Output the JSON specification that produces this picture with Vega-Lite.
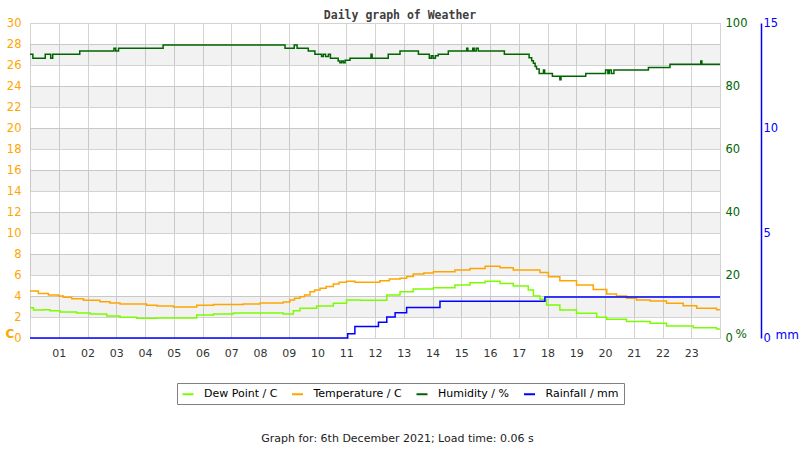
{
  "$schema": "https://vega.github.io/schema/vega-lite/v6.json",
  "autosize": "none",
  "width": 690,
  "height": 315,
  "padding": {"left": 30, "top": 23, "right": 80, "bottom": 112},
  "background": "white",
  "config": {
    "font": "DejaVu Sans",
    "view": {"stroke": "#d3d3d3"},
    "axisX": {
      "labelExpr": "datum.value <= 0 || datum.value >= 24 ? '' : (datum.value < 10 ? '0' + datum.value : '' + datum.value)",
      "tickCount": 24,
      "grid": true, "gridColor": "#d3d3d3", "ticks": false, "domain": false,
      "labelPadding": 9, "labelFontSize": 11, "labelColor": "#333333", "labelFont": "DejaVu Sans",
      "titleFont": "DejaVu Sans", "titleFontWeight": "normal", "titleFontSize": 11, "titleColor": "#222222",
      "titleX": 367, "titleY": 100, "titleAlign": "center", "titleBaseline": "middle"
    }
  },
  "title": {"text": "Daily graph of Weather", "font": "DejaVu Sans Mono", "fontWeight": "bold", "fontSize": 11.5, "color": "#404040", "anchor": "middle", "dx": 25, "dy": 18, "offset": 5, "baseline": "alphabetic"},
  "datasets": {
    "bands": [
      {"lo": 2, "hi": 4}, {"lo": 6, "hi": 8}, {"lo": 10, "hi": 12}, {"lo": 14, "hi": 16},
      {"lo": 18, "hi": 20}, {"lo": 22, "hi": 24}, {"lo": 26, "hi": 28}
    ],
    "series": [
      {"s": "Temperature / C", "h": 0, "v": 4.48}, {"s": "Temperature / C", "h": 0.29, "v": 4.25},
      {"s": "Temperature / C", "h": 0.64, "v": 4.1}, {"s": "Temperature / C", "h": 0.99, "v": 4.0},
      {"s": "Temperature / C", "h": 1.16, "v": 3.87}, {"s": "Temperature / C", "h": 1.45, "v": 3.75},
      {"s": "Temperature / C", "h": 1.86, "v": 3.6}, {"s": "Temperature / C", "h": 2.43, "v": 3.46},
      {"s": "Temperature / C", "h": 2.78, "v": 3.33}, {"s": "Temperature / C", "h": 3.13, "v": 3.24},
      {"s": "Temperature / C", "h": 4.06, "v": 3.11}, {"s": "Temperature / C", "h": 4.41, "v": 3.05},
      {"s": "Temperature / C", "h": 4.99, "v": 2.95}, {"s": "Temperature / C", "h": 5.8, "v": 3.11},
      {"s": "Temperature / C", "h": 6.38, "v": 3.2}, {"s": "Temperature / C", "h": 7.42, "v": 3.24},
      {"s": "Temperature / C", "h": 8.0, "v": 3.33}, {"s": "Temperature / C", "h": 8.81, "v": 3.43},
      {"s": "Temperature / C", "h": 9.04, "v": 3.62}, {"s": "Temperature / C", "h": 9.2, "v": 3.78},
      {"s": "Temperature / C", "h": 9.39, "v": 3.94}, {"s": "Temperature / C", "h": 9.55, "v": 4.1},
      {"s": "Temperature / C", "h": 9.74, "v": 4.41}, {"s": "Temperature / C", "h": 9.9, "v": 4.57},
      {"s": "Temperature / C", "h": 10.09, "v": 4.73}, {"s": "Temperature / C", "h": 10.3, "v": 4.9},
      {"s": "Temperature / C", "h": 10.55, "v": 5.14}, {"s": "Temperature / C", "h": 10.75, "v": 5.3},
      {"s": "Temperature / C", "h": 11.01, "v": 5.4}, {"s": "Temperature / C", "h": 11.3, "v": 5.3},
      {"s": "Temperature / C", "h": 12.17, "v": 5.46}, {"s": "Temperature / C", "h": 12.5, "v": 5.62},
      {"s": "Temperature / C", "h": 12.87, "v": 5.68}, {"s": "Temperature / C", "h": 13.1, "v": 5.85},
      {"s": "Temperature / C", "h": 13.33, "v": 6.1}, {"s": "Temperature / C", "h": 13.7, "v": 6.2},
      {"s": "Temperature / C", "h": 14.03, "v": 6.32}, {"s": "Temperature / C", "h": 14.78, "v": 6.48},
      {"s": "Temperature / C", "h": 15.3, "v": 6.63}, {"s": "Temperature / C", "h": 15.83, "v": 6.83},
      {"s": "Temperature / C", "h": 16.35, "v": 6.7}, {"s": "Temperature / C", "h": 16.81, "v": 6.48},
      {"s": "Temperature / C", "h": 17.74, "v": 6.25}, {"s": "Temperature / C", "h": 18.03, "v": 5.84},
      {"s": "Temperature / C", "h": 18.43, "v": 5.46}, {"s": "Temperature / C", "h": 19.01, "v": 5.05},
      {"s": "Temperature / C", "h": 19.59, "v": 4.63}, {"s": "Temperature / C", "h": 20.06, "v": 4.19},
      {"s": "Temperature / C", "h": 20.4, "v": 4.0}, {"s": "Temperature / C", "h": 20.75, "v": 3.78},
      {"s": "Temperature / C", "h": 21.1, "v": 3.62}, {"s": "Temperature / C", "h": 21.57, "v": 3.52},
      {"s": "Temperature / C", "h": 22.14, "v": 3.3}, {"s": "Temperature / C", "h": 22.72, "v": 3.08},
      {"s": "Temperature / C", "h": 23.19, "v": 2.83}, {"s": "Temperature / C", "h": 23.88, "v": 2.7},
      {"s": "Temperature / C", "h": 24, "v": 2.7},

      {"s": "Dew Point / C", "h": 0, "v": 2.89}, {"s": "Dew Point / C", "h": 0.12, "v": 2.67},
      {"s": "Dew Point / C", "h": 0.46, "v": 2.7}, {"s": "Dew Point / C", "h": 0.7, "v": 2.6},
      {"s": "Dew Point / C", "h": 1.04, "v": 2.48}, {"s": "Dew Point / C", "h": 1.62, "v": 2.38},
      {"s": "Dew Point / C", "h": 2.09, "v": 2.29}, {"s": "Dew Point / C", "h": 2.67, "v": 2.1},
      {"s": "Dew Point / C", "h": 3.13, "v": 1.97}, {"s": "Dew Point / C", "h": 3.71, "v": 1.87},
      {"s": "Dew Point / C", "h": 4.41, "v": 1.9}, {"s": "Dew Point / C", "h": 5.8, "v": 2.19},
      {"s": "Dew Point / C", "h": 6.38, "v": 2.29}, {"s": "Dew Point / C", "h": 7.07, "v": 2.38},
      {"s": "Dew Point / C", "h": 8.81, "v": 2.29}, {"s": "Dew Point / C", "h": 9.16, "v": 2.6},
      {"s": "Dew Point / C", "h": 9.39, "v": 2.83}, {"s": "Dew Point / C", "h": 9.97, "v": 3.05},
      {"s": "Dew Point / C", "h": 10.55, "v": 3.3}, {"s": "Dew Point / C", "h": 11.01, "v": 3.62},
      {"s": "Dew Point / C", "h": 11.48, "v": 3.59}, {"s": "Dew Point / C", "h": 12.41, "v": 4.1},
      {"s": "Dew Point / C", "h": 12.87, "v": 4.41}, {"s": "Dew Point / C", "h": 13.33, "v": 4.67},
      {"s": "Dew Point / C", "h": 14.03, "v": 4.79}, {"s": "Dew Point / C", "h": 14.78, "v": 5.05},
      {"s": "Dew Point / C", "h": 15.3, "v": 5.27}, {"s": "Dew Point / C", "h": 15.83, "v": 5.4},
      {"s": "Dew Point / C", "h": 16.35, "v": 5.2}, {"s": "Dew Point / C", "h": 16.81, "v": 4.95},
      {"s": "Dew Point / C", "h": 17.33, "v": 4.57}, {"s": "Dew Point / C", "h": 17.51, "v": 4.0},
      {"s": "Dew Point / C", "h": 17.74, "v": 3.68}, {"s": "Dew Point / C", "h": 17.97, "v": 3.14},
      {"s": "Dew Point / C", "h": 18.43, "v": 2.67}, {"s": "Dew Point / C", "h": 19.01, "v": 2.35},
      {"s": "Dew Point / C", "h": 19.71, "v": 1.97}, {"s": "Dew Point / C", "h": 20.06, "v": 1.78},
      {"s": "Dew Point / C", "h": 20.75, "v": 1.56}, {"s": "Dew Point / C", "h": 21.57, "v": 1.4},
      {"s": "Dew Point / C", "h": 22.14, "v": 1.14}, {"s": "Dew Point / C", "h": 23.07, "v": 0.98},
      {"s": "Dew Point / C", "h": 23.88, "v": 0.86}, {"s": "Dew Point / C", "h": 24, "v": 0.86},

      {"s": "Humidity / %", "h": 0, "v": 90.1}, {"s": "Humidity / %", "h": 0.1, "v": 88.8},
      {"s": "Humidity / %", "h": 0.53, "v": 90.1}, {"s": "Humidity / %", "h": 0.72, "v": 88.8},
      {"s": "Humidity / %", "h": 0.79, "v": 90.1}, {"s": "Humidity / %", "h": 1.73, "v": 91.1},
      {"s": "Humidity / %", "h": 2.92, "v": 92.0}, {"s": "Humidity / %", "h": 2.98, "v": 91.1},
      {"s": "Humidity / %", "h": 3.08, "v": 92.0}, {"s": "Humidity / %", "h": 4.63, "v": 93.0},
      {"s": "Humidity / %", "h": 8.87, "v": 92.0}, {"s": "Humidity / %", "h": 9.19, "v": 93.0},
      {"s": "Humidity / %", "h": 9.29, "v": 92.0}, {"s": "Humidity / %", "h": 9.68, "v": 91.1},
      {"s": "Humidity / %", "h": 9.91, "v": 90.1}, {"s": "Humidity / %", "h": 10.14, "v": 89.4},
      {"s": "Humidity / %", "h": 10.2, "v": 90.1}, {"s": "Humidity / %", "h": 10.28, "v": 89.4},
      {"s": "Humidity / %", "h": 10.38, "v": 90.1}, {"s": "Humidity / %", "h": 10.45, "v": 88.8},
      {"s": "Humidity / %", "h": 10.72, "v": 87.9}, {"s": "Humidity / %", "h": 10.78, "v": 87.4},
      {"s": "Humidity / %", "h": 10.84, "v": 87.9}, {"s": "Humidity / %", "h": 10.9, "v": 87.4},
      {"s": "Humidity / %", "h": 10.96, "v": 88.2}, {"s": "Humidity / %", "h": 11.13, "v": 88.8},
      {"s": "Humidity / %", "h": 11.86, "v": 90.1}, {"s": "Humidity / %", "h": 11.9, "v": 88.8},
      {"s": "Humidity / %", "h": 12.46, "v": 90.1}, {"s": "Humidity / %", "h": 12.87, "v": 91.1},
      {"s": "Humidity / %", "h": 13.51, "v": 90.1}, {"s": "Humidity / %", "h": 13.89, "v": 88.8},
      {"s": "Humidity / %", "h": 13.96, "v": 89.6}, {"s": "Humidity / %", "h": 14.02, "v": 88.8},
      {"s": "Humidity / %", "h": 14.1, "v": 89.6}, {"s": "Humidity / %", "h": 14.2, "v": 90.1},
      {"s": "Humidity / %", "h": 14.55, "v": 91.1}, {"s": "Humidity / %", "h": 15.19, "v": 92.0},
      {"s": "Humidity / %", "h": 15.23, "v": 91.1}, {"s": "Humidity / %", "h": 15.4, "v": 92.0},
      {"s": "Humidity / %", "h": 15.45, "v": 91.1}, {"s": "Humidity / %", "h": 15.52, "v": 92.0},
      {"s": "Humidity / %", "h": 15.59, "v": 91.1}, {"s": "Humidity / %", "h": 16.5, "v": 90.1},
      {"s": "Humidity / %", "h": 17.36, "v": 89.0}, {"s": "Humidity / %", "h": 17.45, "v": 88.0},
      {"s": "Humidity / %", "h": 17.51, "v": 87.2}, {"s": "Humidity / %", "h": 17.57, "v": 86.2},
      {"s": "Humidity / %", "h": 17.62, "v": 85.4}, {"s": "Humidity / %", "h": 17.71, "v": 84.0},
      {"s": "Humidity / %", "h": 17.86, "v": 85.1}, {"s": "Humidity / %", "h": 17.9, "v": 84.0},
      {"s": "Humidity / %", "h": 18.17, "v": 83.1}, {"s": "Humidity / %", "h": 18.43, "v": 82.0},
      {"s": "Humidity / %", "h": 18.47, "v": 83.1}, {"s": "Humidity / %", "h": 19.33, "v": 84.0},
      {"s": "Humidity / %", "h": 20.02, "v": 85.1}, {"s": "Humidity / %", "h": 20.1, "v": 84.0},
      {"s": "Humidity / %", "h": 20.15, "v": 85.1}, {"s": "Humidity / %", "h": 20.22, "v": 84.0},
      {"s": "Humidity / %", "h": 20.31, "v": 85.1}, {"s": "Humidity / %", "h": 21.51, "v": 85.9},
      {"s": "Humidity / %", "h": 22.26, "v": 86.9}, {"s": "Humidity / %", "h": 23.33, "v": 87.9},
      {"s": "Humidity / %", "h": 23.37, "v": 86.9}, {"s": "Humidity / %", "h": 24, "v": 86.9},

      {"s": "Rainfall / mm", "h": 0, "v": 0}, {"s": "Rainfall / mm", "h": 11.05, "v": 0.2},
      {"s": "Rainfall / mm", "h": 11.3, "v": 0.55}, {"s": "Rainfall / mm", "h": 12.12, "v": 0.75},
      {"s": "Rainfall / mm", "h": 12.41, "v": 1.0}, {"s": "Rainfall / mm", "h": 12.7, "v": 1.2},
      {"s": "Rainfall / mm", "h": 13.1, "v": 1.45}, {"s": "Rainfall / mm", "h": 14.26, "v": 1.75},
      {"s": "Rainfall / mm", "h": 17.91, "v": 1.95}, {"s": "Rainfall / mm", "h": 24, "v": 1.95}
    ]
  },
  "layer": [
    {
      "data": {"name": "bands"},
      "mark": {"type": "rect", "fill": "black", "fillOpacity": 0.05},
      "encoding": {
        "y": {"field": "lo", "type": "quantitative", "scale": {"domain": [0, 30], "nice": false}, "axis": null},
        "y2": {"field": "hi"}
      }
    },
    {
      "data": {"name": "series"},
      "transform": [{"filter": "datum.s === 'Dew Point / C' || datum.s === 'Temperature / C'"}],
      "mark": {"type": "line", "interpolate": "step-after", "strokeWidth": 1.5},
      "encoding": {
        "x": {
          "field": "h", "type": "quantitative",
          "scale": {"domain": [0, 24], "nice": false, "zero": false},
          "title": "Graph for: 6th December 2021; Load time: 0.06 s"
        },
        "y": {
          "field": "v", "type": "quantitative",
          "scale": {"domain": [0, 30], "nice": false},
          "axis": {
            "orient": "left",
            "values": [0, 2, 4, 6, 8, 10, 12, 14, 16, 18, 20, 22, 24, 26, 28, 30],
            "grid": true, "gridColor": "#d3d3d3", "ticks": false, "domain": false,
            "labelColor": "#FFA500", "labelFontSize": 11.5, "labelPadding": 9, "labelFont": "DejaVu Sans",
            "title": "C", "titleAngle": 0, "titleColor": "#FFA500", "titleFontWeight": "bold", "titleFontSize": 12,
            "titleX": -25, "titleY": 314, "titleAlign": "left", "titleBaseline": "alphabetic"
          }
        },
        "color": {
          "field": "s", "type": "nominal",
          "scale": {
            "domain": ["Dew Point / C", "Temperature / C", "Humidity / %", "Rainfall / mm"],
            "range": ["#7CFC00", "#FFA500", "#006400", "#0000FF"]
          },
          "legend": {
            "orient": "none", "legendX": 147, "legendY": 360, "direction": "horizontal", "title": null,
            "symbolType": "stroke", "symbolSize": 121, "symbolStrokeWidth": 2,
            "labelFontSize": 11, "labelFont": "DejaVu Sans", "labelColor": "#000000", "labelOffset": 9.5,
            "columnPadding": 10.5, "strokeColor": "#808080", "padding": 4.5
          }
        }
      }
    },
    {
      "data": {"name": "series"},
      "transform": [{"filter": "datum.s === 'Humidity / %'"}],
      "mark": {"type": "line", "interpolate": "step-after", "strokeWidth": 1.5},
      "encoding": {
        "x": {
          "field": "h", "type": "quantitative",
          "scale": {"domain": [0, 24], "nice": false, "zero": false},
          "title": "Graph for: 6th December 2021; Load time: 0.06 s"
        },
        "y": {
          "field": "v", "type": "quantitative",
          "scale": {"domain": [0, 100], "nice": false},
          "axis": {
            "orient": "right", "values": [0, 20, 40, 60, 80, 100],
            "grid": false, "ticks": false, "domain": false,
            "labelColor": "#006400", "labelFontSize": 11.5, "labelPadding": 5, "labelFont": "DejaVu Sans",
            "title": "%", "titleAngle": 0, "titleColor": "#006400", "titleFontSize": 12, "titleFontWeight": "normal",
            "titleX": 15, "titleY": 314, "titleAlign": "left", "titleBaseline": "alphabetic"
          }
        },
        "color": {"field": "s", "type": "nominal"}
      }
    },
    {
      "data": {"name": "series"},
      "transform": [{"filter": "datum.s === 'Rainfall / mm'"}],
      "mark": {"type": "line", "interpolate": "step-after", "strokeWidth": 1.5},
      "encoding": {
        "x": {
          "field": "h", "type": "quantitative",
          "scale": {"domain": [0, 24], "nice": false, "zero": false},
          "title": "Graph for: 6th December 2021; Load time: 0.06 s"
        },
        "y": {
          "field": "v", "type": "quantitative",
          "scale": {"domain": [0, 15], "nice": false},
          "axis": {
            "orient": "right", "offset": 41, "values": [0, 5, 10, 15],
            "grid": false, "ticks": false, "domain": true, "domainColor": "#0000FF", "domainWidth": 1.5,
            "labelColor": "#0000FF", "labelFontSize": 11.5, "labelPadding": 2, "labelFont": "DejaVu Sans",
            "title": "mm", "titleAngle": 0, "titleColor": "#0000FF", "titleFontSize": 12, "titleFontWeight": "normal",
            "titleX": 14, "titleY": 315, "titleAlign": "left", "titleBaseline": "alphabetic"
          }
        },
        "color": {"field": "s", "type": "nominal"}
      }
    }
  ],
  "resolve": {"scale": {"y": "independent"}, "axis": {"y": "independent"}}
}
